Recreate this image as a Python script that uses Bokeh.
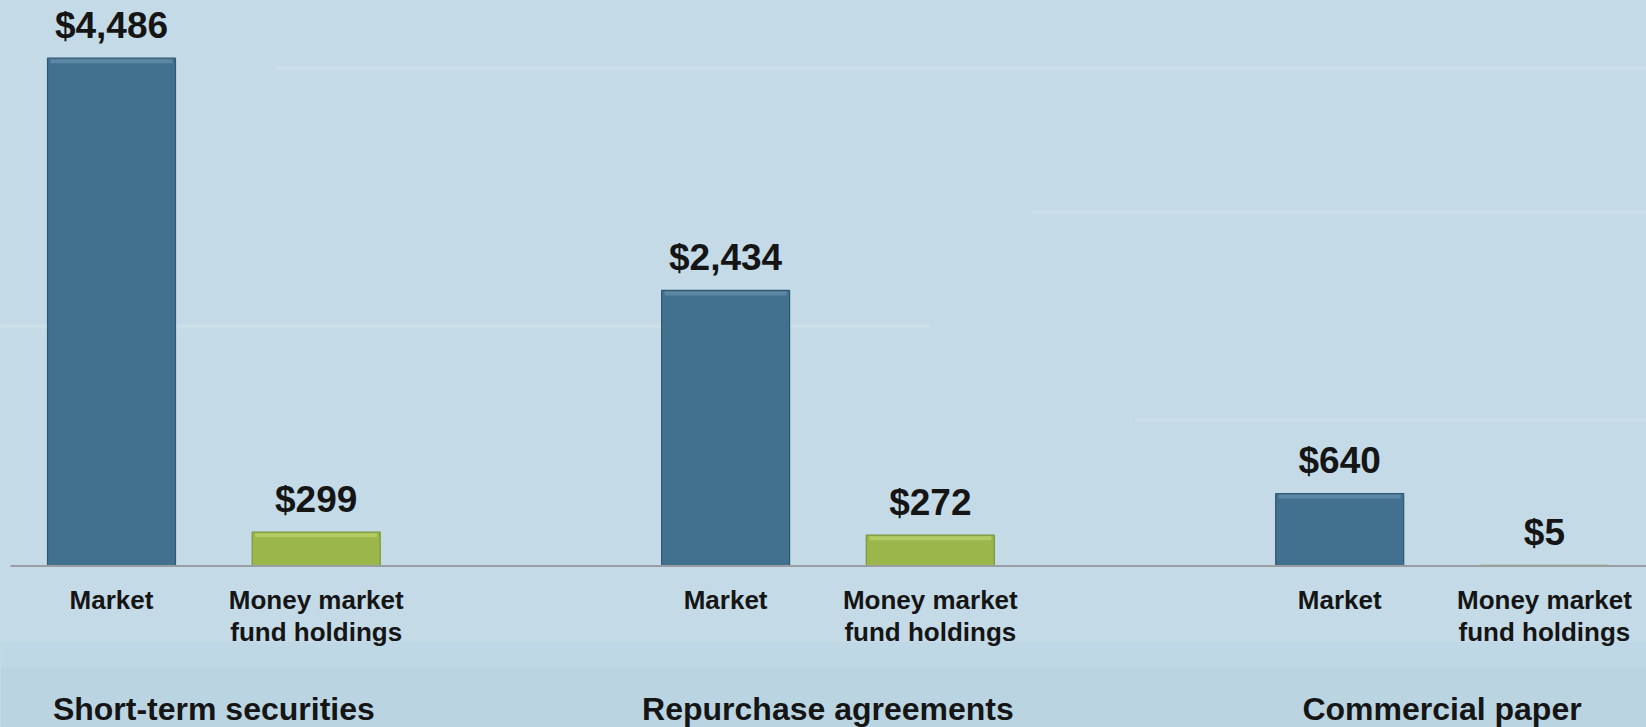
from bokeh.plotting import figure
from bokeh.models import Range1d, ColumnDataSource, GlobalInlineStyleSheet
from bokeh.core.properties import value
from bokeh.embed import file_html
from bokeh.resources import INLINE

# ---- data ----
groups = ["Short-term securities", "Repurchase agreements", "Commercial paper"]
sub_labels = ["Market", "Money market\nfund holdings"]
market = [4486, 2434, 640]
mmf_holdings = [299, 272, 5]

# ---- styling ----
BG = "#c4dbe7"
BLUE = "#41718f"
BLUE_EDGE = "#2f5872"
BLUE_TOP = "#6690aa"
GREEN = "#9bb64b"
GREEN_EDGE = "#7c9537"
GREEN_TOP = "#b9d26d"
TEXT = "#151515"
FONT = value("Liberation Sans")

W, H = 1646, 727
UX = 204.7                      # px per x unit
x_start = -111 / UX
x_end = x_start + W / UX
y_per_px = 8.834
y_end = 565.5 * y_per_px
y_start = -(H - 565.5) * y_per_px

p = figure(width=W, height=H, output_backend="svg", toolbar_location=None,
           x_range=Range1d(x_start, x_end), y_range=Range1d(y_start, y_end),
           min_border=0, min_border_left=0, min_border_right=0,
           min_border_top=0, min_border_bottom=0)
p.axis.visible = False
p.grid.visible = False
p.outline_line_color = None
p.background_fill_color = BG
p.border_fill_color = BG
p.stylesheets.append(GlobalInlineStyleSheet(
    css=f"html, body {{ margin: 0; padding: 0; background: {BG}; overflow: hidden; }}"))

# subtle background streaks / lower darker band
p.quad(left=x_start, right=x_end, bottom=y_start, top=y_start + 60 * y_per_px,
       fill_color="#b1cede", fill_alpha=0.5, line_color=None)
p.quad(left=x_start, right=x_end, bottom=y_start + 60 * y_per_px, top=y_start + 85 * y_per_px,
       fill_color="#b1cede", fill_alpha=0.25, line_color=None)
for yy, x0, x1, a in [(68, 0.8, 7.5, 0.12), (212, 4.5, 7.5, 0.12),
                      (326, -0.55, 4.0, 0.14), (420, 5.0, 7.5, 0.10)]:
    ydat = y_end - yy * y_per_px
    p.quad(left=x0, right=x1, bottom=ydat - 2 * y_per_px, top=ydat + 2 * y_per_px,
           fill_color="white", fill_alpha=a, line_color=None)

# positions derived from indices
bw = 128 / UX
xs_m = [g * 3 for g in range(len(groups))]
xs_f = [g * 3 + 1 for g in range(len(groups))]

def bars(xs, vals, fill, edge, top):
    src = ColumnDataSource(dict(l=[x - bw / 2 for x in xs], r=[x + bw / 2 for x in xs],
                                t=vals, b=[0] * len(vals)))
    p.quad(left="l", right="r", top="t", bottom="b", source=src,
           fill_color=fill, line_color=edge, line_width=1.2)
    bev = 5 * y_per_px
    src2 = ColumnDataSource(dict(l=[x - bw / 2 + 3 / UX for x in xs], r=[x + bw / 2 - 3 / UX for x in xs],
                                 t=[v - 1.0 * y_per_px for v in vals],
                                 b=[max(v - bev, 0) for v in vals]))
    p.quad(left="l", right="r", top="t", bottom="b", source=src2,
           fill_color=top, fill_alpha=0.75, line_color=None)

bars(xs_m, market, BLUE, BLUE_EDGE, BLUE_TOP)
bars(xs_f, mmf_holdings, GREEN, GREEN_EDGE, GREEN_TOP)

# baseline
p.segment(x0=[x_start + 10 / UX], x1=[x_end], y0=[0], y1=[0], line_color="#9a9ea2", line_width=2)

# value labels
all_x = xs_m + xs_f
all_v = market + mmf_holdings
p.text(x=all_x, y=all_v, text=["$" + f"{v:,}" for v in all_v],
       text_font=FONT, text_font_style="bold", text_font_size="37px",
       text_color=TEXT, text_align="center", text_baseline="alphabetic", y_offset=-33)

# category labels (two lines max)
for si, lab in enumerate(sub_labels):
    xs = [g * 3 + si for g in range(len(groups))]
    for li, line in enumerate(lab.split("\n")):
        p.text(x=xs, y=[0] * len(xs), text=[line] * len(xs),
               text_font=FONT, text_font_style="bold", text_font_size="26px",
               text_color=TEXT, text_align="center", text_baseline="alphabetic",
               y_offset=34 + li * 32)

# group labels
p.text(x=[g * 3 + 0.5 for g in range(len(groups))], y=[0] * len(groups), text=groups,
       text_font=FONT, text_font_style="bold", text_font_size="32px",
       text_color=TEXT, text_align="center", text_baseline="alphabetic", y_offset=142.5)

open("out.html", "w").write(file_html(p, INLINE))
